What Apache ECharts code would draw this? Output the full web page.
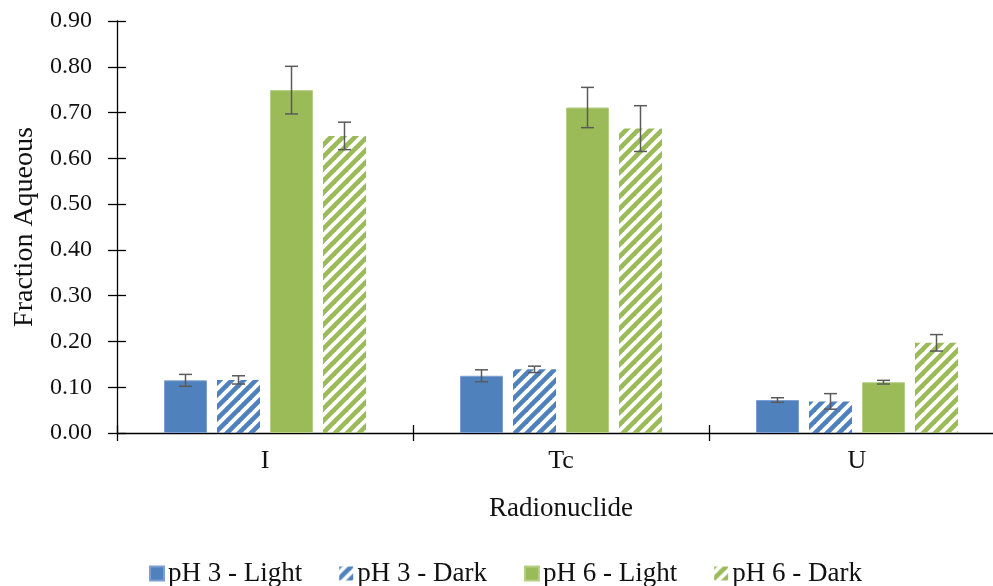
<!DOCTYPE html>
<html>
<head>
<meta charset="utf-8">
<script src="https://cdn.jsdelivr.net/npm/echarts@6/dist/echarts.min.js"></script>
<style>
  html, body { margin: 0; padding: 0; background: #fff; overflow: hidden; }
  #chart { width: 1012px; height: 586px; }
</style>
</head>
<body>
<div id="chart"></div>
<script>
// Fraction of each radionuclide remaining aqueous, by pH and light condition
const categories = ['I', 'Tc', 'U'];
const seriesNames = ['pH 3 - Light', 'pH 3 - Dark', 'pH 6 - Light', 'pH 6 - Dark'];

const ph3Light = [0.115, 0.125, 0.072];
const ph3Dark  = [0.116, 0.139, 0.069];
const ph6Light = [0.749, 0.711, 0.111];
const ph6Dark  = [0.649, 0.665, 0.197];

// symmetric error (± value)
const ph3LightErr = [0.013, 0.013, 0.005];
const ph3DarkErr  = [0.009, 0.007, 0.017];
const ph6LightErr = [0.052, 0.044, 0.004];
const ph6DarkErr  = [0.030, 0.050, 0.018];

const yTicks = [0, 0.1, 0.2, 0.3, 0.4, 0.5, 0.6, 0.7, 0.8, 0.9];

const BLUE = '#4f81bd';
const GREEN = '#9bbb59';
const FONT = '"Liberation Serif", "Times New Roman", serif';
const BAR_WIDTH = 43;
const BAR_GAP_PX = 10;

// diagonal "/" stripe tile used for the dark-condition bars
function stripePattern(color) {
  const s = 12;
  const c = document.createElement('canvas');
  c.width = s; c.height = s;
  const ctx = c.getContext('2d');
  ctx.strokeStyle = color;
  ctx.lineWidth = 4.6;
  ctx.lineCap = 'square';
  [[-s, s, s, -s], [0, s, s, 0], [0, 2 * s, 2 * s, 0]].forEach(function (l) {
    ctx.beginPath();
    ctx.moveTo(l[0], l[1]);
    ctx.lineTo(l[2], l[3]);
    ctx.stroke();
  });
  return { image: c, repeat: 'repeat' };
}

const values = [ph3Light, ph3Dark, ph6Light, ph6Dark];
const errors = [ph3LightErr, ph3DarkErr, ph6LightErr, ph6DarkErr];
const fills = [BLUE, stripePattern(BLUE), GREEN, stripePattern(GREEN)];
const borders = ['#7d9fd0', 'transparent', '#b5cf85', 'transparent'];

const barSeries = values.map(function (vals, i) {
  return {
    name: seriesNames[i],
    type: 'bar',
    data: vals,
    barWidth: BAR_WIDTH,
    barGap: (BAR_GAP_PX / BAR_WIDTH * 100) + '%',
    itemStyle: { color: fills[i], borderColor: borders[i], borderWidth: i % 2 === 0 ? 1 : 0 },
    emphasis: { disabled: true },
    z: 2
  };
});

// error bars positioned over each bar of the group
const nSeries = values.length;
const errorData = [];
values.forEach(function (vals, s) {
  vals.forEach(function (v, c) {
    errorData.push([c, v - errors[s][c], v + errors[s][c], s]);
  });
});

const errorSeries = {
  type: 'custom',
  name: 'error',
  data: errorData,
  z: 5,
  silent: true,
  renderItem: function (params, api) {
    const cat = api.value(0);
    const s = api.value(3);
    const groupWidth = nSeries * BAR_WIDTH + (nSeries - 1) * BAR_GAP_PX;
    const dx = -groupWidth / 2 + BAR_WIDTH / 2 + s * (BAR_WIDTH + BAR_GAP_PX);
    const lo = api.coord([cat, api.value(1)]);
    const hi = api.coord([cat, api.value(2)]);
    const x = lo[0] + dx;
    const cap = 6.5;
    const style = { stroke: '#5a5a5a', lineWidth: 1.5 };
    return {
      type: 'group',
      children: [
        { type: 'line', shape: { x1: x, y1: lo[1], x2: x, y2: hi[1] }, style: style },
        { type: 'line', shape: { x1: x - cap, y1: hi[1], x2: x + cap, y2: hi[1] }, style: style },
        { type: 'line', shape: { x1: x - cap, y1: lo[1], x2: x + cap, y2: lo[1] }, style: style }
      ]
    };
  }
};

const yMin = yTicks[0], yMax = yTicks[yTicks.length - 1], yStep = yTicks[1] - yTicks[0];

const chart = echarts.init(document.getElementById('chart'), null, { renderer: 'canvas' });
chart.setOption({
  backgroundColor: '#ffffff',
  animation: false,
  grid: { left: 117, top: 21, width: 888, height: 412, containLabel: false },
  legend: {
    data: seriesNames,
    left: 149,
    top: 560,
    padding: 0,
    itemWidth: 14,
    itemHeight: 14,
    itemGap: 37,
    icon: 'rect',
    textStyle: { fontFamily: FONT, fontSize: 27, color: '#111', padding: [0, 0, 0, -1] }
  },
  xAxis: [{
    type: 'category',
    data: categories,
    position: 'bottom',
    name: 'Radionuclide',
    nameLocation: 'middle',
    nameGap: 62,
    nameTextStyle: { fontFamily: FONT, fontSize: 27, color: '#111' },
    axisLine: { lineStyle: { color: '#000', width: 1.3 } },
    axisTick: { show: true, length: 8, lineStyle: { color: '#000', width: 1.3 } },
    axisLabel: { fontFamily: FONT, fontSize: 26, color: '#111', margin: 15 },
    splitLine: { show: false }
  }, {
    type: 'category',
    data: categories,
    position: 'bottom',
    axisLine: { show: false },
    axisTick: { show: true, inside: true, length: 8, lineStyle: { color: '#000', width: 1.3 } },
    axisLabel: { show: false },
    splitLine: { show: false }
  }],
  yAxis: [{
    type: 'value',
    min: yMin,
    max: yMax,
    interval: yStep,
    position: 'left',
    name: 'Fraction Aqueous',
    nameLocation: 'middle',
    nameRotate: 90,
    nameGap: 76,
    nameTextStyle: { fontFamily: FONT, fontSize: 28, color: '#111' },
    axisLine: { show: true, lineStyle: { color: '#000', width: 1.3 } },
    axisTick: { show: true, length: 9, lineStyle: { color: '#000', width: 1.3 } },
    axisLabel: {
      fontFamily: FONT, fontSize: 24, color: '#111', margin: 25,
      formatter: function (v) { return v.toFixed(2); }
    },
    splitLine: { show: false }
  }, {
    type: 'value',
    min: yMin,
    max: yMax,
    interval: yStep,
    position: 'left',
    axisLine: { show: false },
    axisTick: { show: true, inside: true, length: 9, lineStyle: { color: '#000', width: 1.3 } },
    axisLabel: { show: false },
    splitLine: { show: false }
  }],
  series: barSeries.concat([errorSeries])
});
</script>
</body>
</html>
